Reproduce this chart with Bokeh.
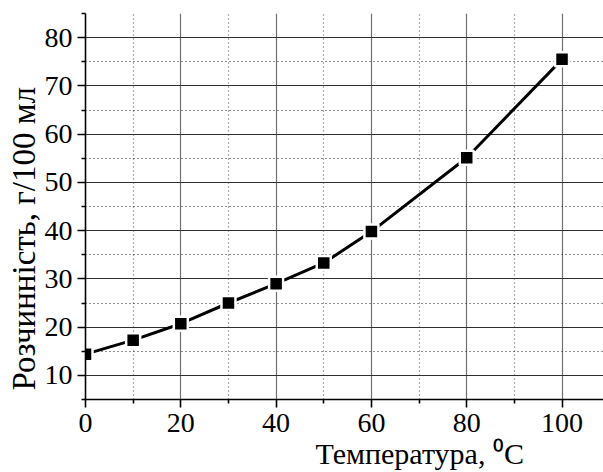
from bokeh.plotting import figure
from bokeh.models import Range1d, FixedTicker, Title
from bokeh.embed import file_html
from bokeh.resources import INLINE

temp = [0, 10, 20, 30, 40, 50, 60, 80, 100]
solub = [14.4, 17.3, 20.7, 25.0, 29.0, 33.3, 39.8, 55.1, 75.5]
x_major = [0, 20, 40, 60, 80, 100]
x_minor = [10, 30, 50, 70, 90]
y_major = [10, 20, 30, 40, 50, 60, 70, 80]
y_minor_axis = [5, 15, 25, 35, 45, 55, 65, 75, 85]
y_minor_grid = [15, 25, 35, 45, 55, 65, 75]
x_title = "Температура, \u2070C"
y_title = "Розчинність, г/100 мл"

FONT = "Liberation Serif"

p = figure(width=603, height=472, output_backend="svg", toolbar_location=None,
           x_range=Range1d(0, 108.7), y_range=Range1d(5, 85),
           min_border_left=85, min_border_right=0, min_border_top=13,
           min_border_bottom=73)
p.outline_line_color = None
p.background_fill_color = "white"
p.border_fill_color = "white"

# axes
for ax in (p.xaxis[0], p.yaxis[0]):
    ax.axis_line_color = "black"
    ax.axis_line_width = 1.6
    ax.major_tick_line_color = "black"
    ax.major_tick_line_width = 1.6
    ax.minor_tick_line_color = "black"
    ax.minor_tick_line_width = 1.6
    ax.major_tick_in = 0
    ax.major_tick_out = 8
    ax.minor_tick_in = 0
    ax.minor_tick_out = 4
    ax.major_label_text_font = FONT
    ax.major_label_text_font_size = "28px"
    ax.major_label_text_color = "black"

p.xaxis[0].ticker = FixedTicker(ticks=x_major, minor_ticks=x_minor)
p.yaxis[0].ticker = FixedTicker(ticks=y_major, minor_ticks=y_minor_axis)
p.xaxis[0].major_label_standoff = 6
p.yaxis[0].major_label_standoff = 5

# grids
p.xgrid.ticker = FixedTicker(ticks=x_major, minor_ticks=x_minor)
p.ygrid.ticker = FixedTicker(ticks=y_major, minor_ticks=y_minor_grid)
p.xgrid.grid_line_color = "#707070"
p.xgrid.grid_line_width = 1.2
p.xgrid.minor_grid_line_color = "#606060"
p.xgrid.minor_grid_line_dash = "1 3"
p.xgrid.minor_grid_line_width = 1.2
p.ygrid.grid_line_color = "#303030"
p.ygrid.grid_line_width = 1.2
p.ygrid.minor_grid_line_color = "#202020"
p.ygrid.minor_grid_line_dash = "1 3"
p.ygrid.minor_grid_line_width = 1.2

# data
p.line(temp, solub, line_color="black", line_width=3)
p.scatter(temp, solub, marker="square", size=14, fill_color="black",
          line_color="white", line_width=2.5)

# axis titles
p.add_layout(Title(text=x_title, text_font=FONT, text_font_size="30px",
                   text_font_style="normal", text_color="black",
                   align="left", offset=230, standoff=0), "below")
p.add_layout(Title(text=y_title, text_font=FONT, text_font_size="33px",
                   text_font_style="normal", text_color="black",
                   align="left", offset=9, standoff=0), "left")

open("out.html", "w").write(file_html(p, INLINE))
